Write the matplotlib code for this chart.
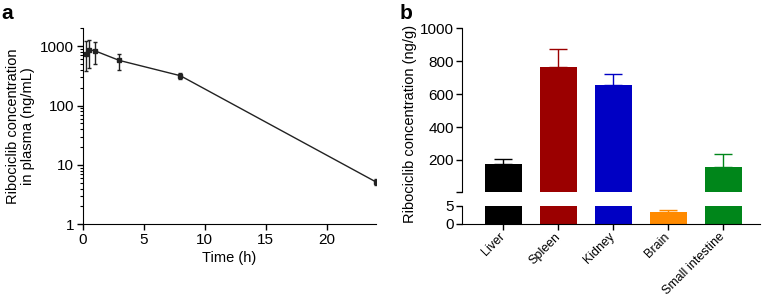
import numpy as np
import matplotlib
matplotlib.use("Agg")
import matplotlib.pyplot as plt
from matplotlib.ticker import LogLocator, NullFormatter, FixedLocator

plt.rcParams['font.family'] = ['Liberation Sans', 'DejaVu Sans']
plt.rcParams['font.size'] = 11

# panel a: plasma concentration over time
time_h = [0.25, 0.5, 1, 3, 8, 24]
plasma_mean = [745, 870, 835, 575, 318, 5.2]
plasma_upper = [1200, 1260, 1170, 745, 350, 5.8]
plasma_lower = [375, 435, 500, 400, 283, 4.6]

# panel b: tissue distribution
tissues = ['Liver', 'Spleen', 'Kidney', 'Brain', 'Small intestine']
tissue_mean = [174, 767, 655, 3.25, 155]
tissue_sd = [30, 109, 67, 0.55, 81]
tissue_colors = ['#000000', '#9b0000', '#0000c4', '#ff8a00', '#00861a']

fig = plt.figure(figsize=(7.62, 2.97), dpi=100)

# ---- panel a
ax = fig.add_axes([0.1085, 0.2448, 0.3845, 0.66])
yerr = [np.array(plasma_mean) - np.array(plasma_lower),
        np.array(plasma_upper) - np.array(plasma_mean)]
ax.errorbar(time_h, plasma_mean, yerr=yerr, color='#222222', lw=1.0,
            marker='s', ms=2.5, capsize=1.6, elinewidth=1.0, capthick=1.0)
ax.set_yscale('log')
ax.set_ylim(1, 2000)
ax.set_xlim(0, 24)
ax.set_xticks([0, 5, 10, 15, 20])
ax.set_yticks([1, 10, 100, 1000])
ax.set_yticklabels(['1', '10', '100', '1000'])
ax.yaxis.set_minor_locator(LogLocator(base=10, subs=np.arange(2, 10)))
ax.yaxis.set_minor_formatter(NullFormatter())
ax.spines['top'].set_visible(False)
ax.spines['right'].set_visible(False)
ax.tick_params(direction='out', length=4, width=1, pad=2)
ax.tick_params(which='minor', length=2.5, width=0.8)
ax.set_xlabel('Time (h)', labelpad=3, fontsize=10.5)
fig.text(0.027, 0.245 + 0.33, 'Ribociclib concentration\nin plasma (ng/mL)',
         rotation=90, ha='center', va='center', fontsize=10.5, linespacing=1.1)
fig.text(0.002, 0.985, 'a', fontsize=15, fontweight='bold', va='top')

# ---- panel b (broken axis)
x = np.arange(len(tissues))
ax_top = fig.add_axes([0.6067, 0.3532, 0.3907, 0.5515])
ax_bot = fig.add_axes([0.6067, 0.2458, 0.3907, 0.0606])
for a, lo, hi in ((ax_top, 5, 1000), (ax_bot, 0, 5)):
    a.bar(x, tissue_mean, width=0.667, color=tissue_colors)
    for xi, m, s, c in zip(x, tissue_mean, tissue_sd, tissue_colors):
        if lo <= m + s <= hi or (a is ax_bot and m + s <= 5):
            a.errorbar(xi, m, yerr=[[0], [s]], color=c, capsize=6.5, lw=1.0, capthick=1.0)
    a.set_xlim(-0.745, 4.67)
    a.spines['top'].set_visible(False)
    a.spines['right'].set_visible(False)
    a.tick_params(direction='out', length=4, width=1, pad=2)

ax_top.set_ylim(5, 1000)
ax_top.yaxis.set_major_locator(FixedLocator([5, 200, 400, 600, 800, 1000]))
ax_top.set_yticklabels(['', '200', '400', '600', '800', '1000'])
ax_top.spines['bottom'].set_visible(False)
ax_top.set_xticks([])

ax_bot.set_ylim(0, 5)
ax_bot.set_yticks([0, 5])
ax_bot.set_xticks(x)
ax_bot.set_xticklabels(tissues, rotation=45, ha='right', va='center',
                       rotation_mode='anchor', fontsize=9)
ax_bot.tick_params(axis='x', pad=4)

fig.text(0.538, 0.584, 'Ribociclib concentration (ng/g)', rotation=90,
         ha='center', va='center', fontsize=10.5)
fig.text(0.524, 0.985, 'b', fontsize=15, fontweight='bold', va='top')

fig.savefig('out.png', dpi=100)
